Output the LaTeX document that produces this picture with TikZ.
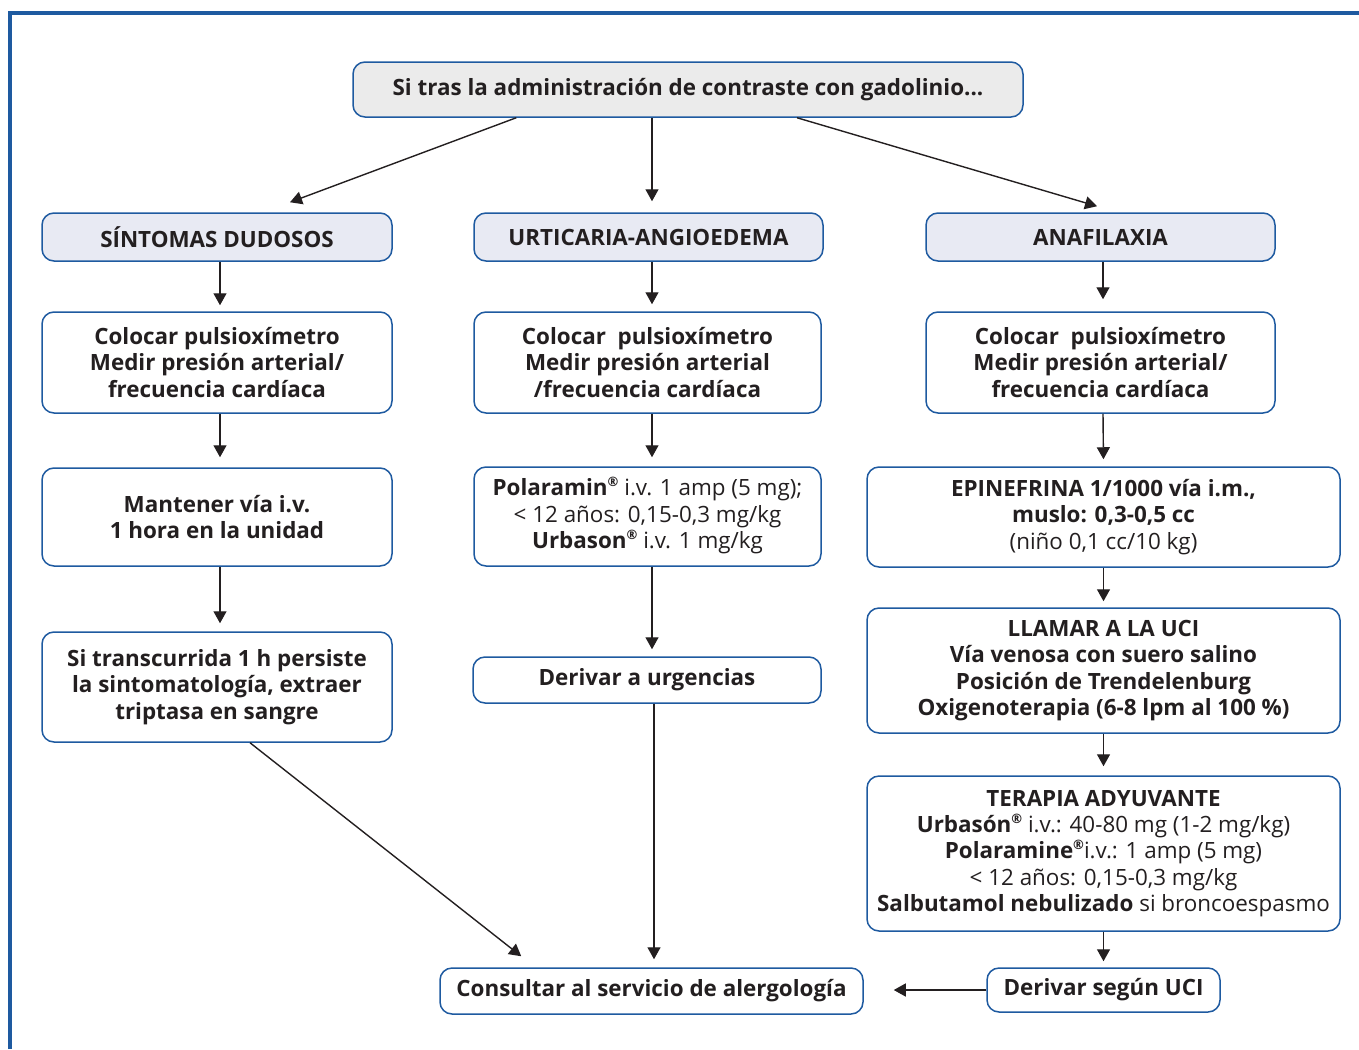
\documentclass[tikz,border=0pt]{standalone}
\usepackage{fontspec}
\setmainfont{Open Sans}
\usetikzlibrary{arrows.meta,calc}
\definecolor{bblue}{RGB}{30,90,160}
\definecolor{topfill}{RGB}{235,235,235}
\definecolor{hdrfill}{RGB}{232,234,243}
\definecolor{ink}{RGB}{35,31,32}
\tikzset{
  box/.style={draw=bblue, line width=0.75pt, rounded corners=6pt, fill=white,
    align=center, inner sep=0pt, text=ink,
    font=\fontsize{11.2}{13.2}\selectfont\bfseries},
  hdr/.style={box, fill=hdrfill},
  topbox/.style={box, fill=topfill},
  arr/.style={draw=ink, line width=0.7pt, -{Triangle[length=6pt,width=6.5pt]}},
  frame/.style={draw=bblue, line width=1.6pt}
}
\newcommand{\rg}[1]{{\mdseries #1}}
\newcommand{\reg}{\smash{\raisebox{0.4em}{\fontsize{6.5}{6.5}\selectfont ®}}}
\begin{document}
\begin{tikzpicture}[x=0.5pt,y=-0.5pt]
\useasboundingbox (0,0) rectangle (1359,1049);
\draw[frame] (10,1049) -- (10,13) -- (1359,13);

\node[topbox, minimum width=335pt, minimum height=27.5pt] (top) at (688,89.5) {Si tras la administración de contraste con gadolinio...};

\node[hdr, minimum width=175pt, minimum height=24pt] (sd) at (217,237) {SÍNTOMAS DUDOSOS};
\node[hdr, minimum width=174.5pt, minimum height=24pt] (ua) at (648.5,237) {URTICARIA-ANGIOEDEMA};
\node[hdr, minimum width=174.5pt, minimum height=24pt] (an) at (1100.5,237) {ANAFILAXIA};

\node[box, minimum width=175pt, minimum height=50.5pt] (c1) at (217,362.5) {Colocar pulsioxímetro\\Medir presión arterial/\\frecuencia cardíaca};
\node[box, minimum width=173.5pt, minimum height=50.5pt] (c2) at (647.5,362.5) {Colocar\ \ pulsioxímetro\\Medir presión arterial\\/frecuencia cardíaca};
\node[box, minimum width=174.5pt, minimum height=50.5pt] (c3) at (1100.5,362.5) {Colocar\ \ pulsioxímetro\\Medir presión arterial/\\frecuencia cardíaca};

\node[box, minimum width=175pt, minimum height=49pt] (m1) at (217,517) {Mantener vía i.v.\\1 hora en la unidad};
\node[box, minimum width=175pt, minimum height=55pt] (s1) at (217,687) {Si transcurrida 1 h persiste\\la sintomatología, extraer\\triptasa en sangre};

\node[box, minimum width=173.5pt, minimum height=49.5pt] (p2) at (647.5,516.5) {Polaramin\reg{} \rg{i.v. 1 amp (5 mg);}\\\rg{< 12 años: 0,15-0,3 mg/kg}\\Urbason\reg{} \rg{i.v. 1 mg/kg}};
\node[box, minimum width=174pt, minimum height=23pt] (d2) at (647,680) {Derivar a urgencias};

\node[box, minimum width=236.5pt, minimum height=50pt] (e3) at (1103.5,517) {EPINEFRINA 1/1000 vía i.m.,\\muslo: 0,3-0,5 cc\\\rg{(niño 0,1 cc/10 kg)}};
\node[box, minimum width=236.5pt, minimum height=62.5pt] (l3) at (1103.5,670.5) {LLAMAR A LA UCI\\Vía venosa con suero salino\\Posición de Trendelenburg\\Oxigenoterapia (6-8 lpm al 100 \%)};
\node[box, minimum width=236.5pt, minimum height=77.5pt] (t3) at (1103.5,853.5) {TERAPIA ADYUVANTE\\Urbasón\reg{} \rg{i.v.: 40-80 mg (1-2 mg/kg)}\\Polaramine\reg{}\rg{i.v.: 1 amp (5 mg)}\\\rg{< 12 años: 0,15-0,3 mg/kg}\\Salbutamol nebulizado \rg{si broncoespasmo}};
\node[box, minimum width=116.5pt, minimum height=22pt] (du) at (1103.5,990) {Derivar según UCI};
\node[box, minimum width=211.5pt, minimum height=23pt] (cs) at (651.5,991) {Consultar al servicio de alergología};

% top fan-out
\draw[arr] ($(top.south west)+(164,0)$) -- ($(sd.north)+(73,-10)$);
\draw[arr] ($(top.south)+(-36,0)$) -- ($(ua.north)+(3.5,-11)$);
\draw[arr] ($(top.south)+(109,0)$) -- ($(an.north)+(-3.5,-6)$);

% left column
\draw[arr, shorten >=3pt] ($(sd.south)+(3,0)$) -- ($(c1.north)+(3,0)$);
\draw[arr, shorten >=5pt] ($(c1.south)+(3,0)$) -- ($(m1.north)+(3,0)$);
\draw[arr, shorten >=4pt] ($(m1.south)+(3,0)$) -- ($(s1.north)+(3,0)$);
\draw[arr] ($(s1.south)+(33,0)$) -- ($(cs.north west)+(82,-11)$);

% middle column
\draw[arr, shorten >=3.5pt] ($(ua.south)+(3.5,0)$) -- ($(c2.north)+(4.5,0)$);
\draw[arr, shorten >=4.5pt] ($(c2.south)+(4.5,0)$) -- ($(p2.north)+(4.5,0)$);
\draw[arr, shorten >=3.5pt] ($(p2.south)+(4.5,0)$) -- ($(d2.north)+(5,0)$);
\draw[arr] ($(d2.south)+(7,0)$) -- ($(cs.north)+(2.5,-8)$);

% right column
\draw[arr, shorten >=6pt] ($(an.south)+(2.5,0)$) -- ($(c3.north)+(2.5,0)$);
\draw[arr, shorten >=3.5pt] ($(c3.south)+(2.5,0)$) -- (e3.north);
\draw[arr, shorten >=3pt] (e3) -- (l3);
\draw[arr, shorten >=4.5pt] (l3) -- (t3);
\draw[arr, shorten >=3pt] (t3) -- (du);
\draw[arr, shorten >=15pt] (du.west) -- (du.west -| cs.east);
\end{tikzpicture}
\end{document}
